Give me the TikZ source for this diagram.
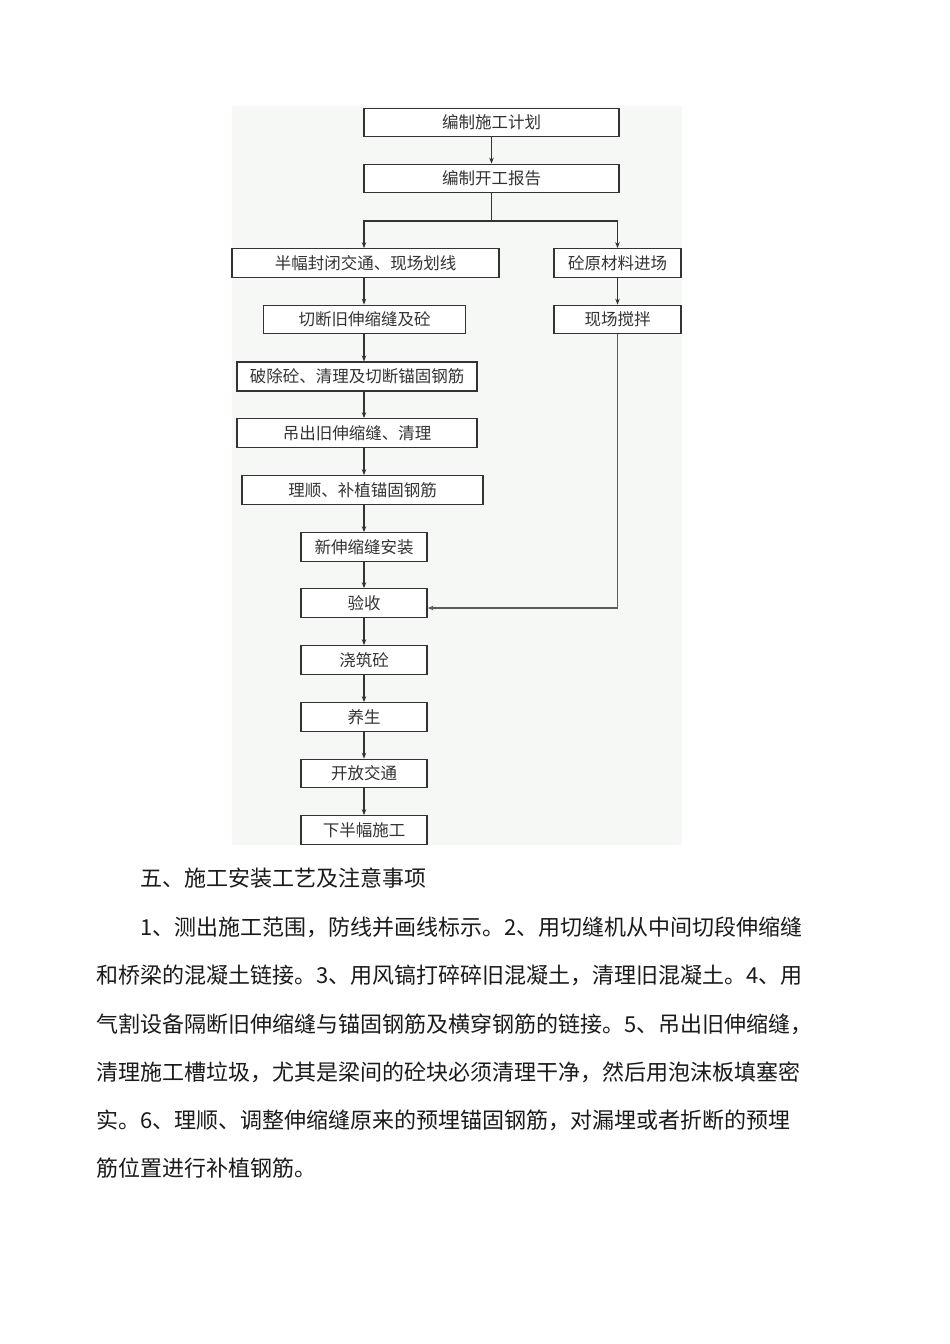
\documentclass[tikz,border=0pt]{standalone}
\usepackage{fontspec}
\newfontfamily\cjk{Noto Sans CJK SC}
\usetikzlibrary{arrows.meta}
\definecolor{bgc}{HTML}{F5F8F4}
\definecolor{linec}{HTML}{333333}
\definecolor{txtc}{HTML}{1A1A1A}
\tikzset{
  flowbox/.style={draw=linec, line width=1.2pt, fill=white, inner sep=0pt, font=\cjk\fontsize{16.5}{16.5}\selectfont, text=linec, minimum height=28.5pt},
  arr/.style={draw=linec, line width=1.1pt, -{Stealth[length=6pt,width=4.5pt]}},
  plain/.style={draw=linec, line width=1.1pt},
  bodytext/.style={anchor=west, inner sep=0pt, font=\cjk\fontsize{22}{22}\selectfont, text=txtc}
}
\begin{document}
\begin{tikzpicture}[x=1pt,y=-1pt]
\useasboundingbox (0,0) rectangle (950,1344);
\fill[white] (0,0) rectangle (950,1344);
\fill[bgc] (232,106) rectangle (682,845);

\node[flowbox, minimum width=255pt] (b1) at (491.5,122.5) {编制施工计划};
\node[flowbox, minimum width=255pt] (b2) at (491.5,178.5) {编制开工报告};
\node[flowbox, minimum width=267pt] (b3) at (365.5,263) {半幅封闭交通、现场划线};
\node[flowbox, minimum width=127pt] (b4) at (617.5,263) {砼原材料进场};
\node[flowbox, minimum width=202pt] (b5) at (364.5,319.5) {切断旧伸缩缝及砼};
\node[flowbox, minimum width=127pt] (b6) at (617.5,319.5) {现场搅拌};
\node[flowbox, minimum width=240pt, line width=1.6pt] (b7) at (357,376.5) {破除砼、清理及切断锚固钢筋};
\node[flowbox, minimum width=240pt] (b8) at (357,433) {吊出旧伸缩缝、清理};
\node[flowbox, minimum width=241pt] (b9) at (362.5,490) {理顺、补植锚固钢筋};
\node[flowbox, minimum width=126pt] (b10) at (364,547) {新伸缩缝安装};
\node[flowbox, minimum width=126pt] (b11) at (364,603) {验收};
\node[flowbox, minimum width=126pt] (b12) at (364,660) {浇筑砼};
\node[flowbox, minimum width=126pt] (b13) at (364,717) {养生};
\node[flowbox, minimum width=126pt] (b14) at (364,773.5) {开放交通};
\node[flowbox, minimum width=126pt] (b15) at (364,830) {下半幅施工};

\draw[arr] (b1.south) -- (b2.north);
\coordinate (split) at (491.5,221);
\draw[plain] (b2.south) -- (split);
\draw[arr] (split) -| (b3.north -| b10.north);
\draw[arr] (split) -| (b4.north);
\draw[arr] (b3.south -| b10.north) -- (b5.north -| b10.north);
\draw[arr] (b5.south -| b10.north) -- (b7.north -| b10.north);
\draw[arr] (b7.south -| b10.north) -- (b8.north -| b10.north);
\draw[arr] (b8.south -| b10.north) -- (b9.north -| b10.north);
\draw[arr] (b9.south -| b10.north) -- (b10.north);
\draw[arr] (b10.south) -- (b11.north);
\draw[arr] (b11.south) -- (b12.north);
\draw[arr] (b12.south) -- (b13.north);
\draw[arr] (b13.south) -- (b14.north);
\draw[arr] (b14.south) -- (b15.north);
\draw[arr] (b4.south) -- (b6.north);
\coordinate (join) at (617.5,608);
\draw[plain, draw=linec!80] (b6.south) -- (join);
\draw[arr, draw=linec!80] (join) -- (join -| b11.east);

\node[bodytext] (t0) at (140,878) {五、施工安装工艺及注意事项};
\node[bodytext] (t1) at (140,927) {1、测出施工范围，防线并画线标示。2、用切缝机从中间切段伸缩缝};
\node[bodytext] (t2) at (96,975) {和桥梁的混凝土链接。3、用风镐打碎碎旧混凝土，清理旧混凝土。4、用};
\node[bodytext] (t3) at (96,1024) {气割设备隔断旧伸缩缝与锚固钢筋及横穿钢筋的链接。5、吊出旧伸缩缝，};
\node[bodytext] (t4) at (96,1072) {清理施工槽垃圾，尤其是梁间的砼块必须清理干净，然后用泡沫板填塞密};
\node[bodytext] (t5) at (96,1120) {实。6、理顺、调整伸缩缝原来的预埋锚固钢筋，对漏埋或者折断的预埋};
\node[bodytext] (t6) at (96,1168) {筋位置进行补植钢筋。};
\end{tikzpicture}
\end{document}
